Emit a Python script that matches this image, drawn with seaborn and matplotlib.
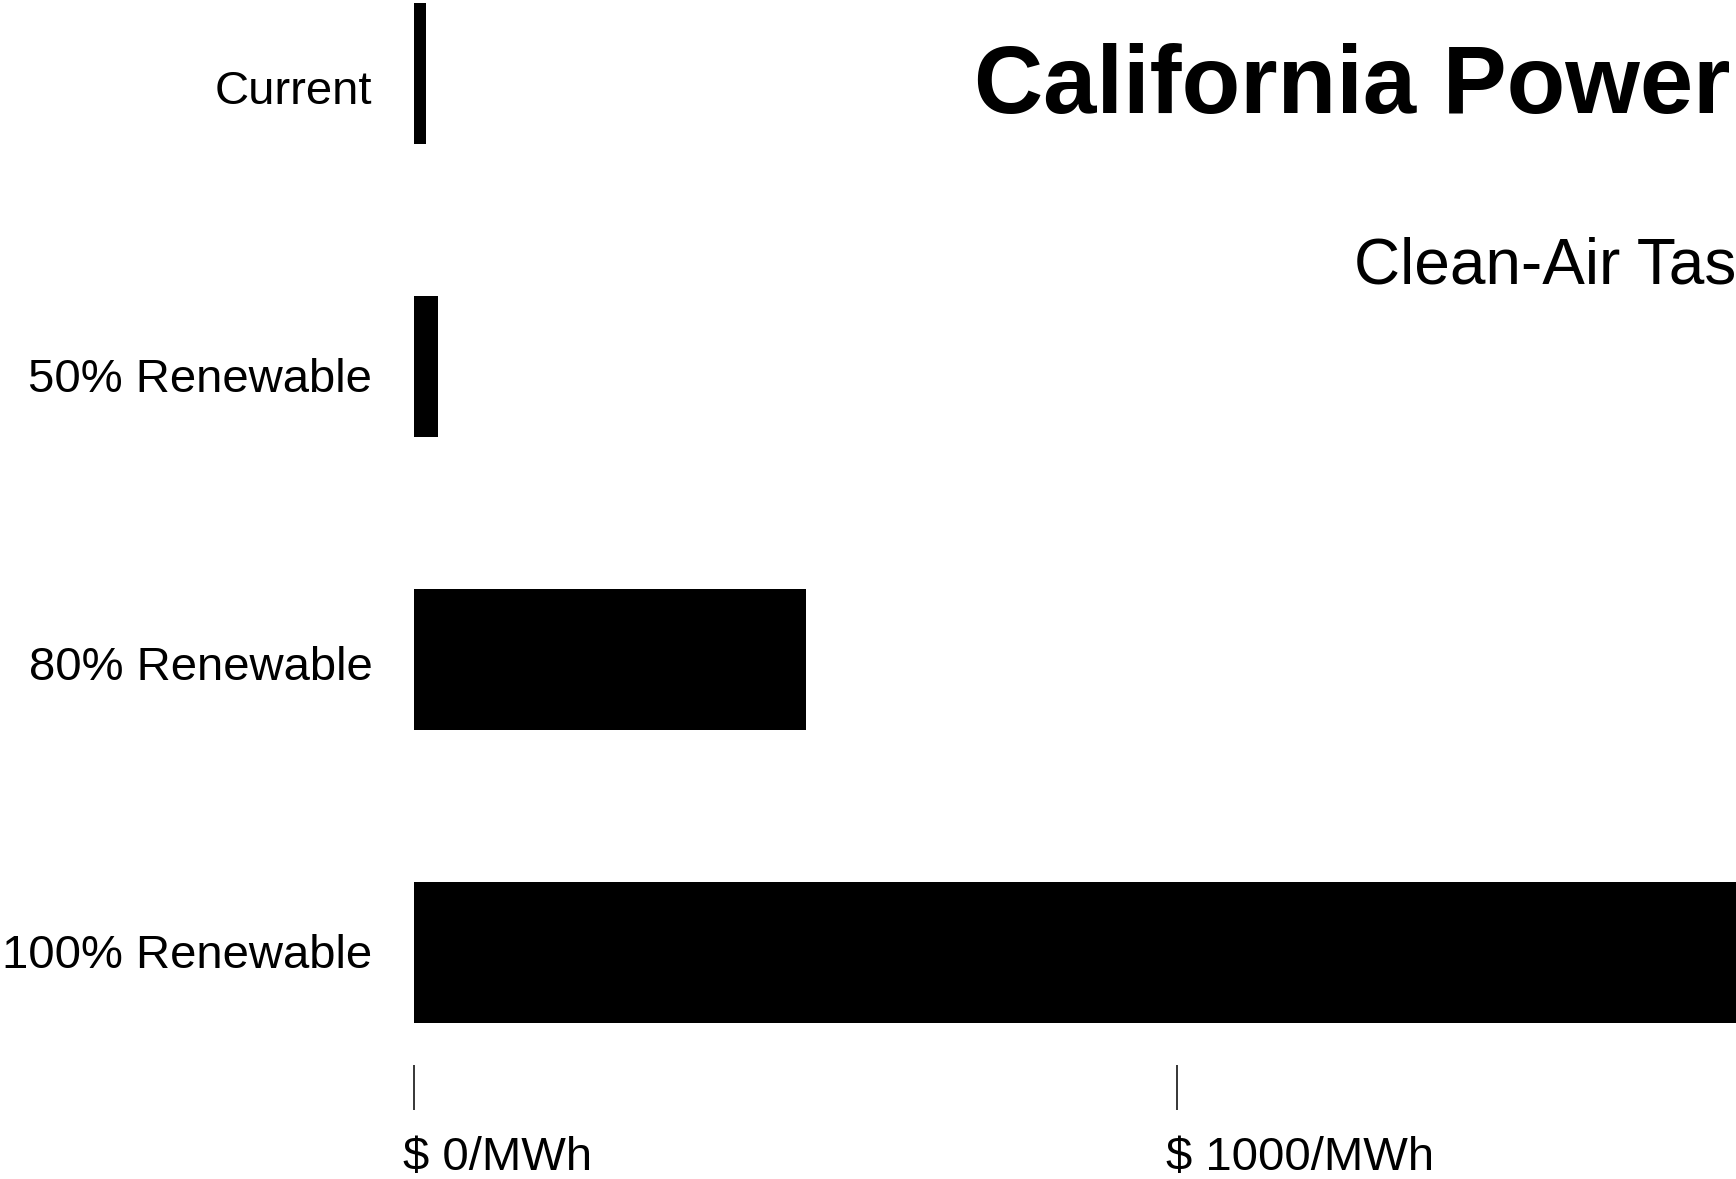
import numpy as np
import pandas as pd
import matplotlib
matplotlib.use("Agg")
import matplotlib.pyplot as plt
import matplotlib.transforms as mtransforms
import seaborn as sns

# Cost of electricity by renewable share ($/MWh)
scenarios = ["Current", "50% Renewable", "80% Renewable", "100% Renewable"]
cost_per_mwh = [16, 31, 514, 1760]
tick_values = [0, 1000]
tick_labels = ["$ 0/MWh", "$ 1000/MWh"]
title_text = "California Power"
subtitle_text = "Clean-Air Task Force"

df = pd.DataFrame({"scenario": scenarios, "cost": cost_per_mwh})

sns.set_theme(style="white")
plt.rcParams["font.family"] = ["Liberation Sans", "DejaVu Sans"]

W, H = 1736, 1179
fig = plt.figure(figsize=(W / 100, H / 100), dpi=100)
fig.patch.set_facecolor("white")

# axes: x=0 at px 414, runs off the right edge of the canvas
left_px, bottom_px, top_px = 414, 1065, 0
ax = fig.add_axes([left_px / W, 1 - bottom_px / H, (W - left_px) / W, (bottom_px - top_px) / H])

sns.barplot(data=df, y="scenario", x="cost", orient="h", color="black",
            width=0.481, saturation=1, ax=ax, linewidth=0)

px_per_unit = 763 / 1000
ax.set_xlim(0, (W - left_px) / px_per_unit)
band = 293.0
c0 = 73.5
ax.set_ylim((bottom_px - c0) / band, (top_px - c0) / band)

for s in ax.spines.values():
    s.set_visible(False)
ax.set_xlabel("")
ax.set_ylabel("")

# category labels sit on their own baseline grid
label_pos = [(104 - c0) / band + i * 288 / band for i in range(len(scenarios))]
ax.set_yticks(label_pos)
ax.set_yticklabels(scenarios, fontsize=34, color="black")
ax.tick_params(axis="y", length=0, pad=30)
for t in ax.get_yticklabels():
    t.set_verticalalignment("baseline")

ax.set_xticks(tick_values)
ax.set_xticklabels(tick_labels, fontsize=34, color="black", ha="left")
ax.tick_params(axis="x", direction="out", length=32.4, width=1.1, color="black",
               pad=19, bottom=True)
# labels start slightly left of their tick marks
shift = mtransforms.ScaledTranslation(-11 / 100, 0, fig.dpi_scale_trans)
for t in ax.get_xticklabels():
    t.set_transform(t.get_transform() + shift)

fig.text(974 / W, 1 - 113 / H, title_text, fontsize=69, fontweight="bold",
         ha="left", va="baseline", color="black")
fig.text(1354 / W, 1 - 283 / H, subtitle_text, fontsize=46,
         ha="left", va="baseline", color="black")

fig.savefig("out.png", dpi=100, facecolor="white")
